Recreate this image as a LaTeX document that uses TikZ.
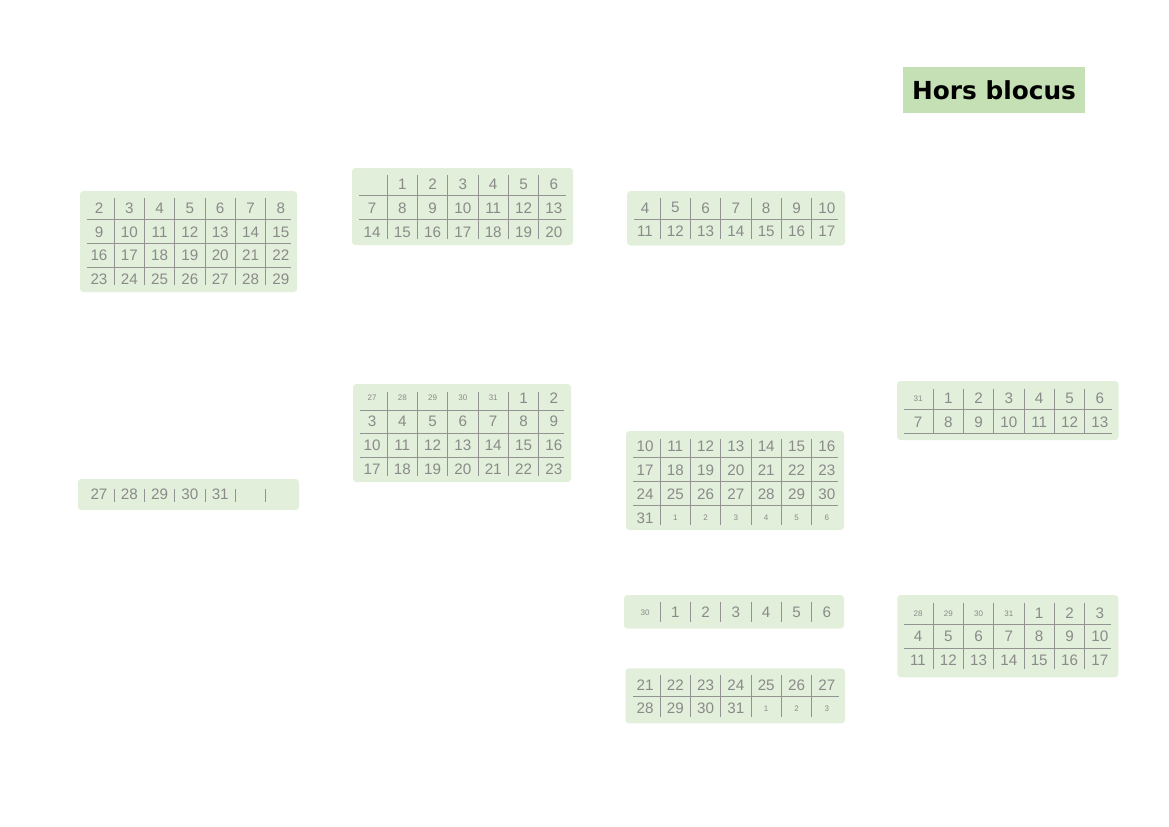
\documentclass[tikz,border=0pt]{standalone}
\usepackage{fontspec}
\setmainfont{Liberation Sans}
\newfontfamily\headfont{DejaVu Sans}
\usepackage{xcolor}
\usepackage{tikz}
\definecolor{calbg}{HTML}{E2EFDA}
\definecolor{headbg}{HTML}{C5E0B4}
\definecolor{daygray}{HTML}{8A8A8A}
\definecolor{linegray}{HTML}{939393}
\tikzset{
  calbox/.style  = { fill=calbg, rounded corners=2.5pt },
  calrule/.style = { draw=linegray, line width=0.75pt },
  day/.style     = { text=daygray, inner sep=0pt, font=\fontsize{11.4}{12}\selectfont },
  dayS/.style    = { text=daygray, inner sep=0pt, font=\fontsize{6}{7}\selectfont },
  heading/.style = { fill=headbg, minimum width=136.5pt, minimum height=34.5pt,
                     font=\headfont\bfseries\fontsize{18.6}{20}\selectfont }
}
% one week: name, centre of first cell, y, days
\newcommand\calrow[5][day]{%
  \foreach \d [count=\i] in {#5}
    \node[#1] (#2\i) at ({#3+30.3*(\i-1)},#4) {\d};}
% the six column rules of a block
\newcommand\colrules[3]{%
  \foreach \k in {0,...,5}
    \draw[calrule] ({#1+15.15+30.3*\k},#2) -- ({#1+15.15+30.3*\k},#3);}

\begin{document}
\begin{tikzpicture}[x=0.75pt,y=-0.75pt]
\useasboundingbox (0,0) rectangle (1169,826);

\node[heading] (horsblocus) at (994,90) {Hors blocus};

% block a
\fill[calbox] (80,191) rectangle (297,292);
\foreach \y in {219.5,243.5,267} \draw[calrule] (86.5,\y) -- (290.5,\y);
\colrules{99}{197.5}{285}
\calrow{a1-}{99}{208}{2,...,8}
\calrow{a2-}{99}{232}{9,...,15}
\calrow{a3-}{99}{255.5}{16,...,22}
\calrow{a4-}{99}{279.2}{23,...,29}

% block b
\fill[calbox] (352,168) rectangle (573,245);
\foreach \y in {195.5,219.5} \draw[calrule] (359,\y) -- (566,\y);
\colrules{372}{175}{239}
\calrow{b1-}{402.3}{184}{1,...,6}
\calrow{b2-}{372}{208}{7,...,13}
\calrow{b3-}{372}{232}{14,...,20}

% block c
\fill[calbox] (627,191) rectangle (845,245.5);
\draw[calrule] (634,219) -- (838,219);
\colrules{645}{198}{238.5}
\calrow{c1-}{645}{207.8}{4,...,10}
\calrow{c2-}{645}{231}{11,...,17}

% block d
\fill[calbox] (353,384) rectangle (571,482);
\foreach \y in {410,433.5,457.3} \draw[calrule] (360,\y) -- (563.5,\y);
\colrules{372}{391.5}{476}
\calrow[dayS]{d1s}{372}{398}{27,...,31}
\calrow{d1-}{523.5}{398}{1,2}
\calrow{d2-}{372}{421.7}{3,...,9}
\calrow{d3-}{372}{445.5}{10,...,16}
\calrow{d4-}{372}{469.2}{17,...,23}

% block e
\fill[calbox] (78,479) rectangle (299,510);
\colrules{99}{489}{502}
\calrow{e1-}{99}{494}{27,...,31}

% block f
\fill[calbox] (626,431) rectangle (844,530);
\foreach \y in {457.3,481,505} \draw[calrule] (633,\y) -- (838,\y);
\colrules{645}{438.5}{524.5}
\calrow{f1-}{645}{446.3}{10,...,16}
\calrow{f2-}{645}{470}{17,...,23}
\calrow{f3-}{645}{494.3}{24,...,30}
\calrow{f4-}{645}{517.8}{31}
\calrow[dayS]{f4s}{675.3}{517.8}{1,...,6}

% block g
\fill[calbox] (897,381) rectangle (1118.5,440);
\foreach \y in {409.3,433.3} \draw[calrule] (904,\y) -- (1111.5,\y);
\colrules{918}{388.5}{433.3}
\calrow[dayS]{g1s}{918}{398.5}{31}
\calrow{g1-}{948.3}{398.5}{1,...,6}
\calrow{g2-}{918}{422}{7,...,13}

% block h
\fill[calbox] (624,595) rectangle (844,628.5);
\colrules{645}{601.7}{621.7}
\calrow[dayS]{h1s}{645}{612.5}{30}
\calrow{h1-}{675.3}{612.5}{1,...,6}

% block i
\fill[calbox] (625.5,668.3) rectangle (845,723.3);
\draw[calrule] (633,696) -- (838.7,696);
\colrules{645}{675}{716.7}
\calrow{i1-}{645}{685}{21,...,27}
\calrow{i2-}{645}{708.3}{28,...,31}
\calrow[dayS]{i2s}{766.2}{708.3}{1,2,3}

% block j
\fill[calbox] (897.3,595) rectangle (1118.3,677.3);
\foreach \y in {624.3,648.3} \draw[calrule] (904,\y) -- (1110.7,\y);
\colrules{918}{602.7}{669.3}
\calrow[dayS]{j1s}{918}{613.5}{28,...,31}
\calrow{j1-}{1039.2}{613.5}{1,2,3}
\calrow{j2-}{918}{636.5}{4,...,10}
\calrow{j3-}{918}{660.5}{11,...,17}
\end{tikzpicture}
\end{document}
